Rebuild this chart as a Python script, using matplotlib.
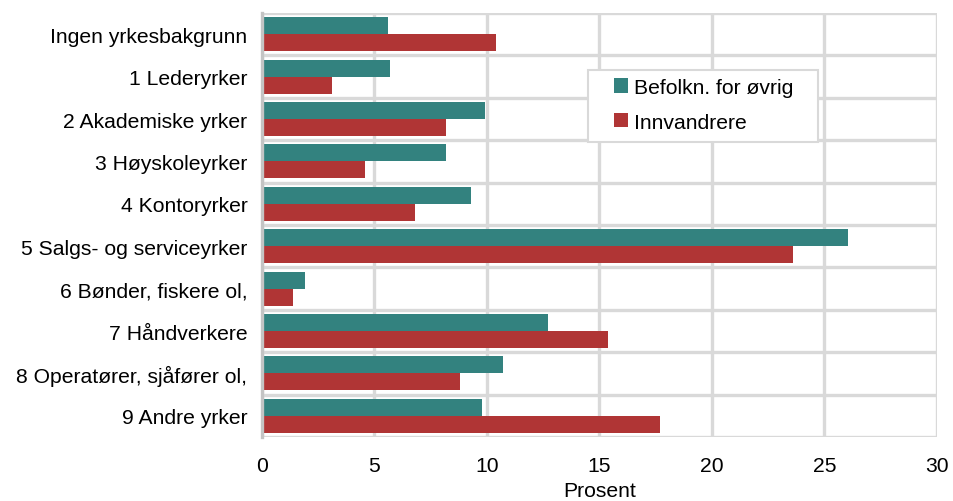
import numpy as np
import matplotlib.pyplot as plt
from matplotlib.patches import Rectangle

plt.rcParams['font.family'] = ['Liberation Sans', 'DejaVu Sans']

# Data ########################################################################

categories = [
    "Ingen yrkesbakgrunn",
    "1 Lederyrker",
    "2 Akademiske yrker",
    "3 Høyskoleyrker",
    "4 Kontoryrker",
    "5 Salgs- og serviceyrker",
    "6 Bønder, fiskere ol,",
    "7 Håndverkere",
    "8 Operatører, sjåfører ol,",
    "9 Andre yrker",
]
befolkn = [5.6, 5.7, 9.9, 8.2, 9.3, 26.05, 1.9, 12.7, 10.7, 9.8]
innvandrere = [10.4, 3.1, 8.2, 4.6, 6.8, 23.6, 1.4, 15.4, 8.8, 17.7]
series_names = ["Befolkn. for øvrig", "Innvandrere"]
xticks = [0, 5, 10, 15, 20, 25, 30]

teal = "#33827f"
red = "#b03535"
grid = "#d9d9d9"
fs = 15.2

# Plot ########################################################################

fig = plt.figure(figsize=(9.54, 5.02), dpi=100)
ax = fig.add_axes([0.2746, 0.1275, 0.7075, 0.8445])

y = np.arange(len(categories))
h = 0.4
ax.barh(y - h / 2, befolkn, height=h, color=teal, label=series_names[0], zorder=3)
ax.barh(y + h / 2, innvandrere, height=h, color=red, label=series_names[1], zorder=3)

ax.set_xlim(0, 30)
ax.set_ylim(len(categories) - 0.5, -0.5)
ax.set_xticks(xticks)
ax.set_yticks(y)
ax.set_yticklabels(categories)

# gridlines: vertical at ticks, horizontal between categories
for xv in xticks:
    ax.axvline(xv, color=grid, lw=2.4, zorder=1)
for yb in np.arange(-0.5, len(categories), 1.0):
    ax.axhline(yb, color=grid, lw=2.4, zorder=1)

for side in ["top", "right", "bottom"]:
    ax.spines[side].set_visible(False)
ax.spines["left"].set_color("#c4c4c4")
ax.spines["left"].set_linewidth(2.4)
ax.spines["left"].set_zorder(4)

ax.tick_params(axis="both", length=0, labelsize=fs)
ax.tick_params(axis="x", pad=14)
ax.tick_params(axis="y", pad=10.5)
ax.set_xlabel("Prosent", fontsize=fs, labelpad=4)

# legend: frame drawn separately so the inset matches the original
frame = Rectangle((588 / 954, 1 - 143 / 502), 230 / 954, 72 / 502,
                  transform=fig.transFigure, facecolor="white",
                  edgecolor=grid, lw=1.5, zorder=5, clip_on=False)
ax.add_artist(frame)
leg = ax.legend(loc="upper left", bbox_to_anchor=(614 / 954, 1 - 79 / 502),
                bbox_transform=fig.transFigure, fontsize=fs, frameon=False,
                handlelength=0.68, handleheight=0.68, handletextpad=0.25,
                borderpad=0, labelspacing=0.74, borderaxespad=0)
leg.set_zorder(6)

fig.savefig("out.png", dpi=100)
